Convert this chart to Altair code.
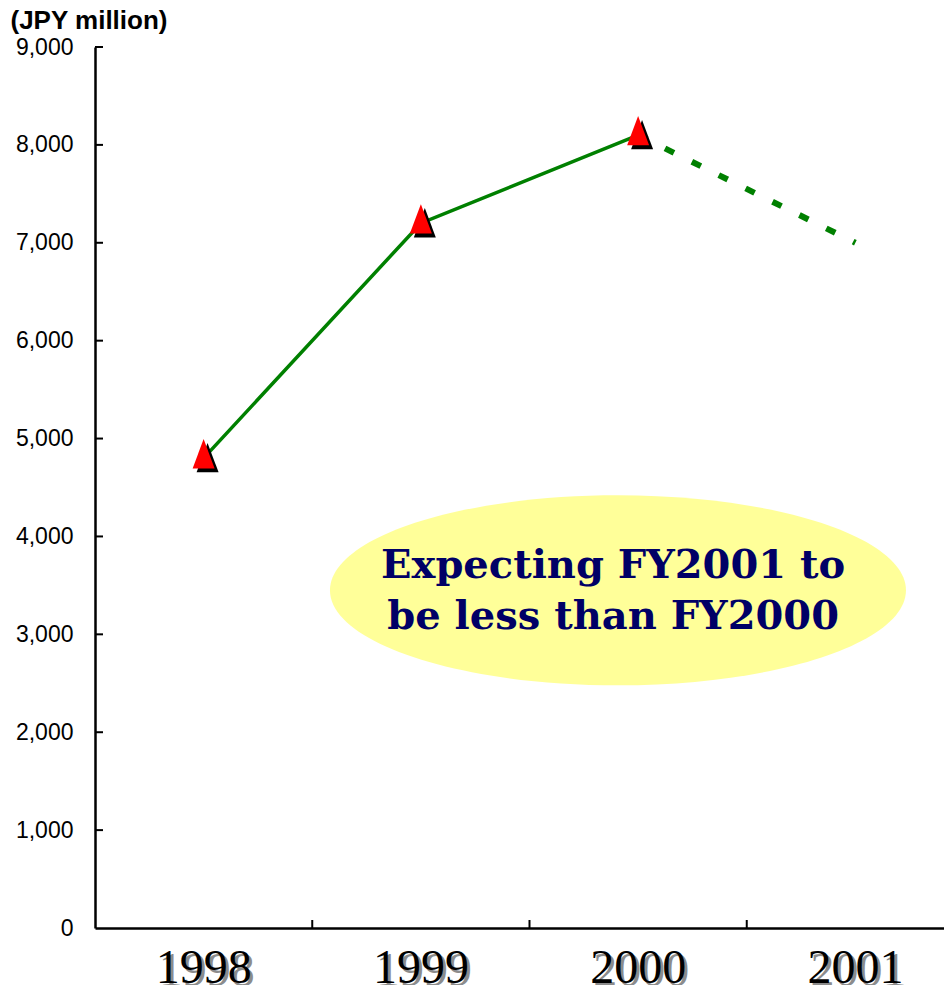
import altair as alt
import pandas as pd

years = ["1998", "1999", "2000", "2001"]
actual_years = ["1998", "1999", "2000"]
actual_values = [4800, 7200, 8100]
forecast_years = ["2000", "2001"]
forecast_values = [8100, 7000]
y_ticks = [1000, 2000, 3000, 4000, 5000, 6000, 7000, 8000, 9000]
x_tick_years = ["1999", "2000", "2001"]
note_lines = ["Expecting FY2001 to", "be less than FY2000"]
note_line_values = [3700, 3180]
note_center_year = "2000"
note_center_value = 3450

W, H = 849, 881

actual = pd.DataFrame({"year": actual_years, "value": actual_values})
forecast = pd.DataFrame({"year": forecast_years, "value": forecast_values})
yt = pd.DataFrame({"value": y_ticks})
xt = pd.DataFrame({"year": x_tick_years})
labels = pd.DataFrame({"year": years})
note = pd.DataFrame({"year": [note_center_year] * 2, "value": note_line_values, "text": note_lines})
ell = pd.DataFrame({"year": [note_center_year], "value": [note_center_value]})

xscale = alt.Scale(type="band", domain=years, paddingInner=0, paddingOuter=0, range=[0, 869])
yscale = alt.Scale(domain=[0, 9000], nice=False)

X = alt.X("year:N", scale=xscale, sort=years,
          axis=alt.Axis(title=None, labels=False, ticks=False, tickSize=0,
                        domainColor="black", domainWidth=2.5, grid=False))
Y = alt.Y("value:Q", scale=yscale,
          axis=alt.Axis(values=[0] + y_ticks, format=",.0f", ticks=False, tickSize=0,
                        labelPadding=22, labelFont="Liberation Sans, Arial",
                        labelFontSize=23, labelColor="black",
                        domainColor="black", domainWidth=2.5, grid=False,
                        title="(JPY million)", titleAngle=0, titleX=-85, titleY=-27,
                        titleAlign="left", titleBaseline="middle",
                        titleFont="Liberation Sans, Arial", titleFontSize=26,
                        titleFontWeight="bold", titleColor="black"))

def xenc():
    return alt.X("year:N", scale=xscale, sort=years)

def yenc():
    return alt.Y("value:Q", scale=yscale)

ellipse_path = "M-1.07,0A1,0.33,0,1,0,0.93,0A1,0.33,0,1,0,-1.07,0Z"
ellipse = alt.Chart(ell).mark_point(shape=ellipse_path, filled=True, fill="#FFFF99",
                                     stroke=None, opacity=1, size=576 * 576).encode(
    x=X, y=Y)

note_text = alt.Chart(note).mark_text(font="DejaVu Serif", fontWeight="bold", fontSize=40,
                                      color="#000066", baseline="middle", align="center",
                                      dx=-25).encode(
    x=xenc(), y=yenc(), text="text:N")

solid = alt.Chart(actual).mark_line(color="#008000", strokeWidth=3.5).encode(x=xenc(), y=yenc())
dashed = alt.Chart(forecast).mark_line(color="#008000", strokeWidth=6,
                                       strokeDash=[10, 20]).encode(x=xenc(), y=yenc())

tri = "M0,-1.3L0.75,0.7L-0.75,0.7Z"
tri_shadow = "M0.27,-1.03L1.02,0.97L-0.48,0.97Z"
shadow = alt.Chart(actual).mark_point(shape=tri_shadow, filled=True, fill="black",
                                      stroke=None, opacity=1, size=860).encode(x=xenc(), y=yenc())
markers = alt.Chart(actual).mark_point(shape=tri, filled=True, fill="#FF0000",
                                       stroke=None, opacity=1, size=860).encode(x=xenc(), y=yenc())

ytick_rules = alt.Chart(yt).mark_rule(color="black", strokeWidth=2).encode(
    y=yenc(), x=alt.value(0), x2=alt.value(8))
xtick_rules = alt.Chart(xt).mark_rule(color="black", strokeWidth=2).encode(
    x=alt.X("year:N", scale=xscale, sort=years, bandPosition=0),
    y=alt.value(H), y2=alt.value(H - 8))

lab_font = "Liberation Serif, Times New Roman, serif"
lab_shadow = alt.Chart(labels).mark_text(font=lab_font, fontSize=48, color="#8c8c8c",
                                         baseline="top", dx=3, dy=3).encode(
    x=xenc(), y=alt.value(H + 17), text="year:N")
lab = alt.Chart(labels).mark_text(font=lab_font, fontSize=48, color="black",
                                  baseline="top").encode(
    x=xenc(), y=alt.value(H + 17), text="year:N")

chart = alt.layer(ellipse, note_text, solid, dashed, shadow, markers,
                  ytick_rules, xtick_rules, lab_shadow, lab).properties(
    width=W, height=H,
    background="white",
    autosize=alt.AutoSizeParams(type="none"),
    padding={"left": 87, "top": 39, "right": 0, "bottom": 57},
).configure_view(stroke=None)

chart.save("out.html", embed_options={"renderer": "svg", "actions": False})
